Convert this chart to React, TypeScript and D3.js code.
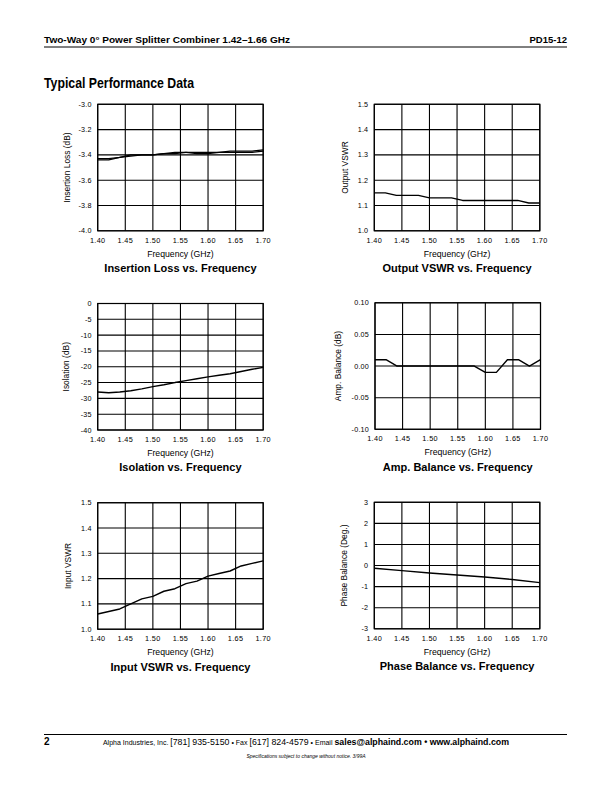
import React from "react";
import * as d3 from "d3";

// ---------- data ----------
const freqs = [1.40, 1.42, 1.44, 1.46, 1.48, 1.50, 1.52, 1.54, 1.56, 1.58, 1.60, 1.62, 1.64, 1.66, 1.68, 1.70];
const xTicks = [1.40, 1.45, 1.50, 1.55, 1.60, 1.65, 1.70];

const insertionLossA = [-3.43, -3.43, -3.42, -3.40, -3.40, -3.40, -3.39, -3.38, -3.38, -3.39, -3.39, -3.38, -3.37, -3.37, -3.37, -3.36];
const insertionLossB = [-3.44, -3.44, -3.42, -3.41, -3.40, -3.40, -3.39, -3.39, -3.38, -3.38, -3.38, -3.38, -3.38, -3.38, -3.38, -3.37];
const outputVswr = [1.15, 1.15, 1.14, 1.14, 1.14, 1.13, 1.13, 1.13, 1.12, 1.12, 1.12, 1.12, 1.12, 1.12, 1.11, 1.11];
const isolation = [-28.0, -28.2, -28.0, -27.6, -27.0, -26.3, -25.7, -25.0, -24.4, -23.8, -23.2, -22.7, -22.2, -21.5, -20.8, -20.2];
const ampBalance = [0.01, 0.01, 0.0, 0.0, 0.0, 0.0, 0.0, 0.0, 0.0, 0.0, -0.01, -0.01, 0.01, 0.01, 0.0, 0.01];
const inputVswr = [1.06, 1.07, 1.08, 1.10, 1.12, 1.13, 1.15, 1.16, 1.18, 1.19, 1.21, 1.22, 1.23, 1.25, 1.26, 1.27];
const phaseFreqs = [1.40, 1.45, 1.50, 1.55, 1.60, 1.65, 1.70];
const phaseBalance = [-0.13, -0.24, -0.35, -0.45, -0.54, -0.66, -0.81];

const ilTicks = [-4.0, -3.8, -3.6, -3.4, -3.2, -3.0];
const vswrTicks = [1.0, 1.1, 1.2, 1.3, 1.4, 1.5];
const isoTicks = [-40, -35, -30, -25, -20, -15, -10, -5, 0];
const ampTicks = [-0.10, -0.05, 0.0, 0.05, 0.10];
const phaseTicks = [-3, -2, -1, 0, 1, 2, 3];

const FONT = "'Liberation Sans', Arial, Helvetica, sans-serif";

type Series = { x: number[]; y: number[]; w?: number };

function Chart(props: {
  left: number; top: number; width: number; height: number;
  yTicks: number[]; yFmt: string; yLabel: string; title: string;
  yLabelOffset: number; series: Series[];
}) {
  const { left, top, width, height, yTicks, yFmt, yLabel, title, yLabelOffset, series } = props;
  const x = d3.scaleLinear().domain([1.4, 1.7]).range([left, left + width]);
  const y = d3.scaleLinear().domain([yTicks[0], yTicks[yTicks.length - 1]]).range([top + height, top]);
  const fy = d3.format(yFmt);
  const fx = d3.format(".2f");
  const cx = left + width / 2;
  const cy = top + height / 2;
  return (
    <g>
      {xTicks.map((t, i) => (
        <line key={"vx" + i} x1={x(t)} x2={x(t)} y1={top} y2={top + height} stroke="#000" strokeWidth={1.1} />
      ))}
      {yTicks.map((t, i) => (
        <line key={"hy" + i} x1={left} x2={left + width} y1={y(t)} y2={y(t)} stroke="#000" strokeWidth={1.1} />
      ))}
      <rect x={left} y={top} width={width} height={height} fill="none" stroke="#000" strokeWidth={1.2} />
      {series.map((s, i) => {
        const line = d3.line<number>().x((_, j) => x(s.x[j])).y((v) => y(v));
        return <path key={"s" + i} d={line(s.y) || ""} fill="none" stroke="#000" strokeWidth={s.w ?? 1.4} strokeLinejoin="round" />;
      })}
      {yTicks.map((t, i) => (
        <text key={"yl" + i} x={left - 6} y={y(t)} dy="0.35em" textAnchor="end" fontSize={7.2} letterSpacing={0.2} fontFamily={FONT} fill="#000">
          {fy(t).replace("\u2212", "-")}
        </text>
      ))}
      {xTicks.map((t, i) => (
        <text key={"xl" + i} x={x(t)} y={top + height + 9.5} dy="0.35em" textAnchor="middle" fontSize={7.3} letterSpacing={0.35} fontFamily={FONT} fill="#000">
          {fx(t)}
        </text>
      ))}
      <text x={cx} y={top + height + 23} dy="0.35em" textAnchor="middle" fontSize={8.7} fontFamily={FONT} fill="#000">
        Frequency (GHz)
      </text>
      <text x={cx} y={top + height + 37.5} dy="0.35em" textAnchor="middle" fontSize={11} fontWeight="bold" fontFamily={FONT} fill="#000">
        {title}
      </text>
      <text transform={`translate(${left - yLabelOffset},${cy}) rotate(-90)`} dy="0.35em" textAnchor="middle" fontSize={8.4} fontFamily={FONT} fill="#000">
        {yLabel}
      </text>
    </g>
  );
}

export default function App() {
  const W = 165.5;
  const H = 126.5;
  const L1 = 97.7;
  const L2 = 374.3;
  return (
    <svg width={612} height={792} style={{ position: "absolute", left: 0, top: 0, background: "#fff" }}>
      <rect x={0} y={0} width={612} height={792} fill="#fff" />
      {/* header */}
      <text x={44} y={43} fontSize={9.5} fontWeight="bold" fontFamily={FONT} textLength={246} lengthAdjust="spacingAndGlyphs">
        Two-Way 0° Power Splitter Combiner 1.42–1.66 GHz
      </text>
      <text x={567} y={43} fontSize={9.5} fontWeight="bold" fontFamily={FONT} textAnchor="end">PD15-12</text>
      <line x1={44} x2={567} y1={47} y2={47} stroke="#000" strokeWidth={1} />
      <text x={44} y={88} fontSize={14} fontWeight="bold" fontFamily={FONT} textLength={150} lengthAdjust="spacingAndGlyphs">
        Typical Performance Data
      </text>

      <Chart left={L1} top={104.3} width={W} height={H} yTicks={ilTicks} yFmt=".1f" yLabel="Insertion Loss (dB)" yLabelOffset={31}
        title="Insertion Loss vs. Frequency"
        series={[{ x: freqs, y: insertionLossA, w: 1.3 }, { x: freqs, y: insertionLossB, w: 1.3 }]} />
      <Chart left={L2} top={104.3} width={W} height={H} yTicks={vswrTicks} yFmt=".1f" yLabel="Output VSWR" yLabelOffset={29.5}
        title="Output VSWR vs. Frequency" series={[{ x: freqs, y: outputVswr }]} />
      <Chart left={L1} top={303.5} width={W} height={H} yTicks={isoTicks} yFmt="d" yLabel="Isolation (dB)" yLabelOffset={32}
        title="Isolation vs. Frequency" series={[{ x: freqs, y: isolation }]} />
      <Chart left={L2 + 0.7} top={302.8} width={W} height={H} yTicks={ampTicks} yFmt=".2f" yLabel="Amp. Balance (dB)" yLabelOffset={37}
        title="Amp. Balance vs. Frequency" series={[{ x: freqs, y: ampBalance }]} />
      <Chart left={L1} top={502.7} width={W} height={H} yTicks={vswrTicks} yFmt=".1f" yLabel="Input VSWR" yLabelOffset={29.5}
        title="Input VSWR vs. Frequency" series={[{ x: freqs, y: inputVswr }]} />
      <Chart left={L2} top={502.3} width={W} height={H} yTicks={phaseTicks} yFmt="d" yLabel="Phase Balance (Deg.)" yLabelOffset={30}
        title="Phase Balance vs. Frequency" series={[{ x: phaseFreqs, y: phaseBalance }]} />

      {/* footer */}
      <line x1={44} x2={567} y1={734.5} y2={734.5} stroke="#000" strokeWidth={1} />
      <text x={44} y={745} fontSize={10} fontWeight="bold" fontFamily={FONT}>2</text>
      <text x={306} y={745} textAnchor="middle" fontFamily={FONT} fontSize={7}>
        <tspan>Alpha Industries, Inc. </tspan>
        <tspan fontSize={8.8}>[781] 935-5150</tspan>
        <tspan> • Fax </tspan>
        <tspan fontSize={8.8}>[617] 824-4579</tspan>
        <tspan> • Email </tspan>
        <tspan fontSize={8.8} fontWeight="bold">sales@alphaind.com • www.alphaind.com</tspan>
      </text>
      <text x={306} y={758} textAnchor="middle" fontFamily={FONT} fontSize={5} fontStyle="italic">
        Specifications subject to change without notice.  3/99A
      </text>
    </svg>
  );
}
